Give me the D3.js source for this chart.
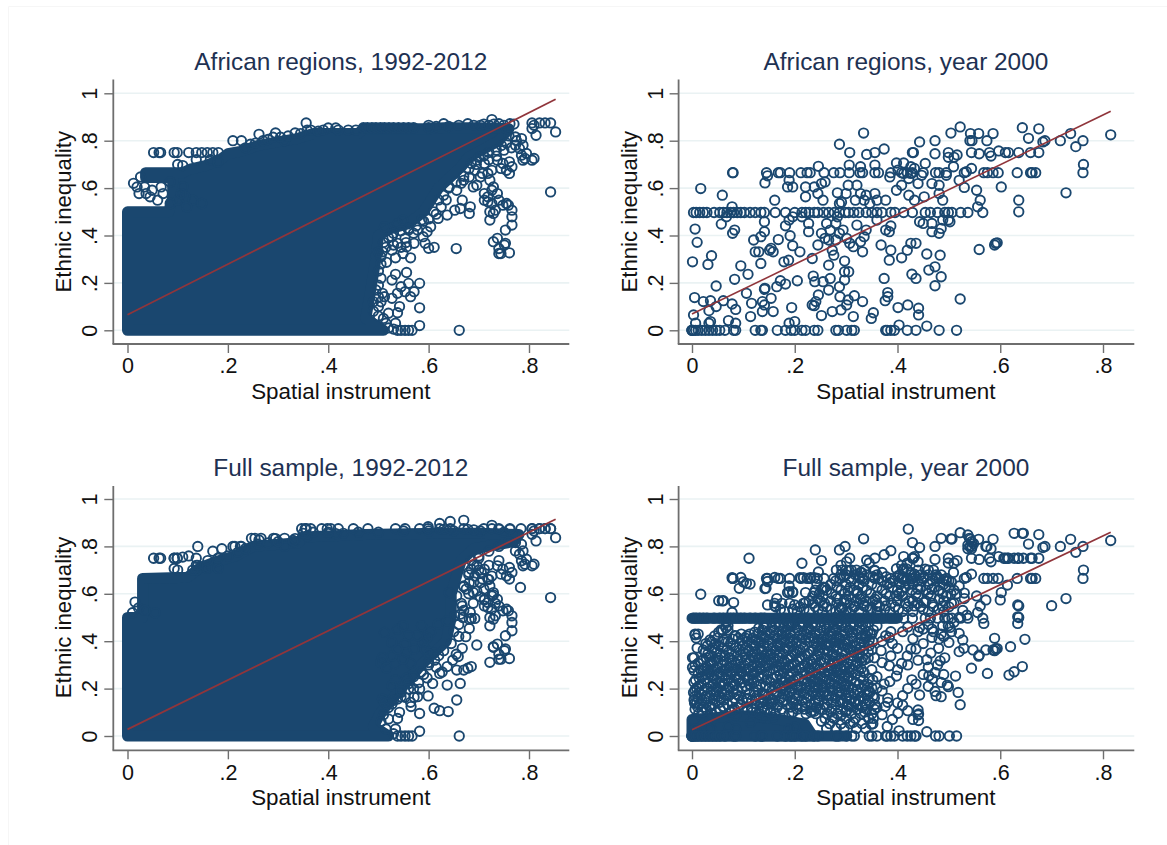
<!DOCTYPE html>
<html><head><meta charset="utf-8">
<script src="https://cdn.jsdelivr.net/npm/d3@7"></script>
<style>html,body{margin:0;padding:0;background:#fff}svg{display:block}text{font-family:"Liberation Sans",Arial,sans-serif}</style>
</head><body><svg id="c" width="1167" height="845"></svg>
<script>
const titles = ["African regions, 1992-2012","African regions, year 2000","Full sample, 1992-2012","Full sample, year 2000"];
const xLabel = "Spatial instrument", yLabel = "Ethnic inequality";
const xTicks = [0,.2,.4,.6,.8], yTicks = [0,.2,.4,.6,.8,1];
const tickText = v => v===0?"0":v===1?"1":String(v).replace("0.",".");

// fitted lines [x,y]
const fitA = [[0,.066],[.853,.975]];
const fitB = [[0,.069],[.815,.924]];
const fitC = [[0,.028],[.853,.915]];
const fitD = [[0,.026],[.5,.535],[.815,.86]];

// outline of the fully overplotted mass in the two 1992-2012 panels
const massA = [[0,0],[0,.5],[.082,.5],[.09,.56],[.09,.645],[.036,.645],[.036,.665],[.11,.665],[.125,.68],[.155,.695],[.185,.72],[.2,.745],[.225,.755],[.26,.78],[.3,.795],[.34,.81],[.37,.83],[.46,.83],[.47,.85],[.6,.85],[.63,.855],[.7,.855],[.76,.85],[.74,.8],[.68,.73],[.665,.69],[.65,.66],[.62,.6],[.59,.5],[.56,.45],[.525,.43],[.5,.4],[.495,.3],[.487,.2],[.475,.05],[.51,0]];
const massC = [[0,0],[0,.5],[.03,.5],[.03,.665],[.12,.67],[.145,.71],[.175,.735],[.215,.76],[.25,.8],[.34,.815],[.35,.84],[.47,.85],[.62,.855],[.7,.855],[.78,.85],[.77,.82],[.69,.79],[.665,.74],[.645,.6],[.645,.5],[.635,.4],[.585,.3],[.545,.2],[.505,.1],[.49,.04],[.52,0]];
// overplotted strips and corner in the full-sample year-2000 panel
const massDLow = [[0,0],[.235,0],[.22,.05],[.17,.07],[.11,.085],[.06,.08],[0,.07]];
const massDRow5 = [[0,.497],[.4,.497]];
const massDRow0 = [[0,0],[.3,0]];

const rowA = [.052,.063,.066,.093,.099,.122,.137,.148,.159,.17,.181];
const topRowA = [.47,.478,.487,.495,.504,.512,.521,.53,.54,.55,.56,.57,.6];
const zeroTail = [.538,.545,.553,.56,.567];
const outA = [[.21,.8],[.227,.8],[.262,.827],[.295,.833],[.313,.8],[.334,.833],[.356,.875],[.358,.844],[.4,.854],[.415,.854],[.63,.872],[.678,.872],[.726,.889],[.703,.865],[.74,.872],[.762,.872],[.806,.875],[.821,.875],[.832,.875],[.843,.875],[.853,.837],[.814,.823],[.806,.851],[.81,.865],[.843,.584],[.655,.345],[.661,0],[.582,.02],[.582,.095],[.582,.198],[.556,.244],[.534,.236],[.527,.212],[.56,.198],[.553,.163],[.538,.156],[.527,.135],[.542,.1],[.538,.074],[.52,.072],[.508,.156],[.512,.142],[.571,.163],[.564,.142],[.545,.184],[.534,.03],[.505,.31],[.516,.287],[.534,.306],[.564,.306],[.549,.324],[.527,.338],[.508,.331],[.556,.352],[.571,.367],[.593,.367],[.611,.35],[.6,.346],[.589,.395],[.604,.437],[.597,.416],[.578,.423],[.56,.423],[.553,.388],[.538,.367],[.527,.395],[.512,.437],[.538,.45],[.549,.465],[.586,.465],[.619,.472],[.637,.486],[.652,.507],[.663,.514],[.681,.493],[.683,.521],[.667,.549],[.656,.591],[.641,.605],[.67,.633],[.689,.605],[.696,.612],[.681,.647],[.722,.465],[.729,.374],[.737,.388],[.74,.324],[.744,.324],[.751,.36],[.753,.367],[.761,.327],[.74,.345],[.753,.423],[.766,.444],[.766,.479],[.766,.507],[.755,.535],[.74,.549],[.726,.535],[.733,.507],[.718,.563],[.726,.591],[.737,.577],[.711,.577],[.729,.605],[.722,.5],[.729,.493],[.748,.528],[.759,.528],[.718,.542],[.711,.549],[.761,.662],[.766,.69],[.755,.675],[.744,.683],[.737,.718],[.718,.662],[.703,.647],[.692,.675],[.685,.704],[.696,.718],[.711,.704],[.726,.675],[.722,.633],[.707,.662],[.748,.704],[.761,.711],[.785,.739],[.792,.725],[.806,.718],[.81,.725],[.788,.718],[.795,.746],[.781,.767],[.785,.809],[.773,.781],[.788,.781],[.773,.816],[.012,.62],[.026,.647],[.023,.577],[.019,.605],[.034,.605],[.045,.563],[.06,.549],[.067,.605],[.085,.626],[.071,.577],[.049,.591],[.037,.577],[.085,.535],[.1,.549],[.111,.605],[.115,.563],[.13,.549],[.148,.535],[.107,.577],[.118,.52],[.137,.72],[.165,.72],[.18,.71],[.1,.7],[.11,.695]];
const edgeA = [[.235,.77],[.245,.785],[.255,.79],[.27,.8],[.28,.805],[.29,.815],[.305,.815],[.32,.82],[.345,.83],[.365,.845],[.38,.84],[.39,.845],[.42,.845],[.44,.845],[.455,.845],[.6,.865],[.615,.86],[.64,.86],[.66,.865],[.69,.865],[.71,.87],[.72,.865],[.73,.87],[.75,.865],[.77,.87],[.755,.85],[.76,.82],[.755,.79],[.745,.78],[.735,.76],[.72,.75],[.71,.735],[.7,.73],[.695,.7],[.72,.72],[.735,.735],[.75,.76],[.765,.77],[.775,.8],[.68,.68],[.67,.65],[.655,.625],[.665,.62],[.64,.6],[.63,.57],[.62,.55],[.635,.55],[.625,.52],[.61,.5],[.6,.47],[.615,.49],[.59,.46],[.575,.44],[.56,.43],[.57,.41],[.545,.42],[.53,.41],[.52,.39],[.51,.37],[.53,.36],[.515,.35],[.545,.35],[.555,.37],[.5,.33],[.505,.28],[.5,.25],[.505,.22],[.5,.19],[.495,.17],[.5,.14],[.49,.12],[.5,.1],[.505,.12],[.49,.08],[.5,.06],[.51,.05],[.515,.03],[.52,.01],[.53,.005]];
const topRowC = [.347,.354,.365,.387,.398,.405,.42,.45,.479,.534,.553,.582,.599,.622,.643,.67,.726,.74,.762,.784,.806,.821,.832,.843];
const outC = [[.67,.91],[.643,.905],[.622,.897],[.599,.883],[.14,.8],[.17,.78],[.188,.79],[.214,.8],[.225,.8],[.247,.834],[.254,.834],[.266,.834],[.291,.834],[.313,.834],[.332,.82],[.093,.75],[.099,.75],[.11,.755],[.122,.76],[.137,.75],[.093,.707],[.1,.7],[.137,.7],[.181,.707],[.159,.707],[.783,.627],[.696,.384],[.722,.311],[.729,.377],[.685,.293],[.678,.286],[.67,.278],[.659,.335],[.656,.278],[.663,.222],[.637,.215],[.656,.152],[.611,.117],[.622,.107],[.639,.103],[.599,.169],[.565,.124],[.545,.166],[.578,.166],[.608,.222],[.622,.264],[.637,.293],[.648,.32],[.667,.37],[.674,.419],[.681,.454],[.685,.496],[.692,.496],[.703,.588],[.689,.56],[.711,.574],[.729,.595],[.733,.56],[.627,.27],[.59,.26],[.612,.32],[.597,.245],[.57,.2],[.66,.42],[.668,.5],[.675,.62],[.69,.65],[.7,.7],[.72,.72],[.74,.74],[.7,.76],[.68,.68],[.71,.62],[.72,.66],[.685,.74],[.015,.565],[.022,.54],[.01,.52],[.055,.52],[.035,.53]];
const edgeC = [[.13,.7],[.14,.72],[.16,.74],[.18,.75],[.2,.76],[.22,.775],[.235,.79],[.26,.81],[.28,.815],[.3,.82],[.33,.825],[.35,.855],[.37,.86],[.4,.86],[.43,.855],[.46,.86],[.5,.86],[.55,.865],[.6,.865],[.65,.865],[.69,.87],[.71,.875],[.75,.86],[.77,.85],[.76,.82],[.74,.8],[.72,.78],[.7,.75],[.69,.72],[.705,.69],[.68,.69],[.67,.63],[.68,.6],[.665,.56],[.67,.53],[.66,.47],[.65,.44],[.645,.39],[.63,.36],[.62,.34],[.6,.31],[.585,.27],[.57,.25],[.56,.22],[.545,.19],[.53,.15],[.52,.12],[.51,.09],[.505,.06],[.515,.03],[.53,.01],[.6,.3],[.615,.29],[.58,.225]];

// year 2000 African regions
const row0B = [0,0,0,.003,.007,.012,.019,.026,.033,.04,.047,.054,.064,.081,.085,.123,.134,.137,.166,.182,.193,.2,.214,.221,.238,.245,.28,.285,.301,.311,.316,.377,.38,.387,.394,.419,.436,.481,.515];
const row5B = [.003,.008,.015,.022,.029,.043,.054,.061,.068,.075,.081,.088,.095,.102,.113,.123,.134,.141,.162,.182,.2,.214,.221,.228,.238,.245,.256,.266,.277,.287,.298,.305,.315,.325,.339,.35,.36,.37,.387,.395,.412,.429,.454,.464,.478,.492,.499,.506,.523,.537,.566];
const row665B = [.079,.08,.145,.168,.172,.19,.212,.224,.23,.257,.276,.288,.306,.327,.332,.356,.363,.387,.408,.419,.429,.45,.474,.481,.495,.53,.568,.575,.586,.596,.633,.659,.662,.669];
const row75B = [.307,.356,.429,.431,.499,.544,.579,.61,.616,.636,.659,.675];
const ptsB = [[.522,.858],[.504,.832],[.542,.83],[.558,.83],[.586,.83],[.541,.8],[.545,.8],[.574,.8],[.643,.855],[.675,.85],[.655,.81],[.683,.795],[.687,.8],[.717,.8],[.737,.83],[.747,.775],[.761,.8],[.815,.825],[.762,.7],[.761,.665],[.728,.58],[.334,.832],[.287,.785],[.34,.742],[.374,.765],[.443,.795],[.473,.8],[.473,.745],[.499,.73],[.516,.74],[.51,.73],[.559,.745],[.582,.735],[.597,.757],[.017,.598],[.059,.57],[.057,.448],[.067,.479],[.078,.521],[.079,.409],[.083,.423],[.006,.427],[.01,.371],[.038,.315],[.031,.278],[.001,.289],[.095,.272],[.109,.236],[.083,.215],[.047,.187],[.005,.138],[.022,.121],[.036,.125],[.061,.125],[.078,.111],[.085,.088],[.033,.083],[.003,.065],[.071,.041],[.085,.03],[.036,.037],[.033,.03],[.007,.03],[.047,.1],[.106,.156],[.116,.114],[.114,.058],[.137,.121],[.141,.107],[.137,.079],[.141,.173],[.142,.177],[.154,.135],[.158,.079],[.165,.184],[.172,.209],[.182,.195],[.205,.209],[.194,.096],[.189,.03],[.2,.037],[.134,.282],[.123,.331],[.13,.331],[.12,.381],[.134,.395],[.141,.416],[.141,.458],[.161,.549],[.147,.652],[.142,.622],[.151,.338],[.158,.331],[.154,.346],[.168,.383],[.182,.441],[.191,.399],[.196,.357],[.21,.331],[.179,.289],[.188,.296],[.196,.479],[.189,.465],[.186,.605],[.189,.633],[.196,.605],[.221,.563],[.214,.479],[.227,.451],[.227,.416],[.245,.36],[.234,.303],[.236,.229],[.239,.205],[.255,.205],[.269,.219],[.266,.275],[.266,.17],[.246,.149],[.241,.121],[.234,.107],[.238,.104],[.252,.062],[.273,.079],[.287,.184],[.288,.142],[.29,.086],[.301,.107],[.304,.128],[.316,.146],[.332,.121],[.314,.058],[.297,.212],[.297,.247],[.305,.247],[.297,.292],[.332,.331],[.314,.353],[.307,.367],[.301,.388],[.294,.423],[.287,.409],[.28,.381],[.273,.338],[.276,.317],[.266,.381],[.259,.388],[.252,.409],[.269,.423],[.262,.451],[.28,.451],[.283,.479],[.321,.444],[.339,.423],[.335,.395],[.328,.374],[.368,.36],[.387,.338],[.384,.296],[.408,.306],[.419,.338],[.426,.367],[.436,.367],[.377,.423],[.384,.416],[.387,.44],[.36,.465],[.401,.096],[.42,.107],[.441,.093],[.441,.065],[.457,.018],[.403,.022],[.353,.074],[.349,.05],[.428,.237],[.436,.219],[.461,.254],[.473,.268],[.485,.226],[.473,.188],[.483,.317],[.457,.322],[.522,.132],[.559,.341],[.591,.367],[.594,.369],[.589,.36],[.374,.219],[.381,.159],[.381,.142],[.376,.125],[.602,.605],[.636,.549],[.636,.5],[.554,.591],[.561,.549],[.556,.521],[.53,.603],[.52,.633],[.509,.69],[.544,.683],[.534,.669],[.45,.451],[.443,.458],[.467,.451],[.467,.416],[.481,.409],[.485,.43],[.488,.465],[.499,.465],[.502,.458],[.488,.549],[.481,.577],[.452,.563],[.433,.549],[.422,.57],[.398,.591],[.408,.612],[.377,.549],[.36,.549],[.356,.577],[.335,.549],[.346,.535],[.339,.57],[.328,.577],[.318,.549],[.3,.577],[.304,.612],[.321,.612],[.283,.58],[.287,.535],[.291,.54],[.255,.549],[.245,.577],[.238,.605],[.252,.619],[.259,.626],[.221,.605],[.246,.692],[.356,.697],[.306,.697],[.328,.69],[.398,.706],[.412,.706],[.401,.676],[.412,.662],[.426,.662],[.422,.64],[.44,.619],[.454,.704],[.433,.683],[.426,.69],[.447,.654],[.467,.619],[.481,.612],[.495,.654],[.385,.647]];

// extra cells of the full sample, year 2000
const ptsDx = [[.421,.873],[.429,.816],[.485,.834],[.506,.831],[.537,.848],[.54,.834],[.544,.82],[.537,.805],[.544,.79],[.537,.79],[.548,.812],[.627,.855],[.645,.855],[.572,.8],[.582,.79],[.298,.8],[.24,.785],[.252,.74],[.214,.729],[.111,.75],[.387,.782],[.412,.757],[.419,.729],[.433,.757],[.607,.75],[.614,.75],[.627,.75],[.634,.75],[.645,.75],[.662,.75],[.7,.55],[.648,.408],[.62,.377],[.589,.412],[.643,.293],[.627,.271],[.617,.257],[.575,.264],[.544,.286],[.558,.337],[.547,.363],[.572,.363],[.586,.363],[.568,.475],[.634,.475],[.634,.503],[.634,.553],[.614,.637],[.6,.574],[.572,.574],[.527,.405],[.52,.433],[.529,.37],[.52,.356],[.513,.253],[.518,.184],[.499,.208],[.485,.166],[.443,.173],[.44,.089],[.398,.253],[.474,0],[.501,0],[.433,0],[.426,0],[.41,0],[.35,0],[.345,0],[.36,0],[.078,.668],[.095,.669],[.113,.641],[.106,.644],[.092,.623],[.1,.65],[.052,.571],[.061,.571],[.081,.563],[.147,.665],[.161,.669],[.144,.623],[.147,.553],[.161,.56],[.165,.58],[.175,.56],[.189,.609],[.196,.609],[.2,.553],[.217,.56],[.21,.668],[.217,.668],[.231,.668],[.238,.668],[.244,.665],[.29,.72],[.281,.7],[.301,.735],[.31,.7],[.33,.69],[.345,.73],[.37,.69],[.408,.72],[.418,.705],[.44,.735],[.46,.7],[.475,.68],[.49,.66],[.505,.65],[.515,.6],[.53,.58],[.51,.56],[.527,.53],[.535,.51],[.52,.5],[.51,.48],[.505,.44],[.49,.42],[.5,.395],[.48,.37],[.465,.35],[.492,.33],[.478,.3],[.46,.29],[.45,.26],[.468,.24],[.49,.26],[.497,.215],[.475,.17],[.46,.21],[.42,.2],[.41,.17],[.4,.14],[.41,.13],[.44,.11],[.43,.07],[.39,.07],[.38,.04],[.37,.09],[.36,.12],[.355,.16],[.345,.19],[.37,.19],[.385,.23],[.36,.25],[.35,.28],[.37,.31],[.355,.33],[.4,.28],[.42,.3],[.44,.32],[.45,.39],[.43,.41],[.41,.44],[.39,.39],[.4,.37],[.37,.4],[.35,.43],[.42,.46],[.44,.44],[.46,.47],[.47,.44]];
const bandsD = [
[.032,[.262,.281,.296,.32,.338]],
[.052,[.268,.29,.308,.331,.352]],
[.074,[.259,.277,.3,.318,.344]],
[.094,[.013,.037,.131,.162,.189,.222,.241,.263,.283,.31,.329,.35]],
[.113,[.006,.028,.055,.083,.108,.147,.175,.205,.22,.25,.272,.29,.322,.34,.355]],
[.133,[.015,.04,.069,.095,.126,.147,.168,.184,.205,.232,.258,.28,.302,.322,.337,.356]],
[.152,[.004,.019,.041,.062,.098,.117,.139,.158,.179,.195,.214,.24,.265,.29,.31,.324,.343]],
[.168,[.006,.027,.052,.071,.092,.126,.148,.187,.208,.228,.25,.272,.3,.33,.352]],
[.184,[.003,.014,.036,.058,.08,.121,.166,.19,.216,.235,.258,.283,.305,.327,.346]],
[.203,[.009,.029,.049,.072,.097,.15,.175,.194,.222,.245,.268,.29,.312,.33,.35,.36]],
[.218,[.018,.041,.063,.084,.112,.134,.168,.186,.201,.23,.252,.276,.3,.325,.342]],
[.236,[.007,.026,.048,.07,.09,.118,.145,.173,.197,.218,.24,.262,.286,.31,.333,.352]],
[.251,[.02,.038,.059,.083,.104,.13,.165,.189,.204,.228,.25,.274,.296,.328]],
[.268,[.012,.033,.053,.075,.097,.121,.146,.178,.196,.215,.236,.258,.282,.305,.335]],
[.284,[.024,.045,.066,.088,.11,.131,.158,.183,.209,.227,.248,.27,.29,.312,.329]],
[.298,[.006,.036,.058,.079,.102,.127,.149,.172,.194,.219,.244,.27,.296,.318]],
[.315,[.017,.042,.062,.09,.113,.138,.16,.18,.205,.231,.25,.283,.31,.33]],
[.33,[.001,.004,.028,.05,.073,.098,.119,.143,.171,.192,.214,.24,.262,.29,.322,.343]],
[.347,[.031,.055,.077,.104,.127,.153,.177,.2,.225,.249,.273,.3,.326]],
[.363,[.022,.044,.068,.092,.111,.136,.163,.187,.21,.236,.258,.282,.31,.334,.35]],
[.381,[.03,.052,.08,.099,.124,.148,.172,.195,.22,.244,.27,.295,.318,.345]],
[.398,[.038,.059,.07,.108,.13,.156,.18,.204,.229,.253,.278,.304,.33,.352]],
[.413,[.008,.05,.09,.104,.118,.141,.166,.19,.214,.238,.263,.288,.312,.338]],
[.43,[.006,.012,.096,.112,.128,.152,.175,.2,.223,.248,.273,.298,.32,.347]],
[.447,[.06,.07,.137,.16,.184,.207,.231,.256,.28,.306,.33,.353]],
[.465,[.07,.145,.17,.193,.216,.24,.266,.292,.315,.338]],
[.48,[.155,.178,.2,.226,.25,.274,.3,.326,.345]],
[.525,[.18,.205,.228,.254,.28,.3,.325,.36,.385,.41,.43,.46,.49]],
[.545,[.163,.21,.24,.262,.29,.315,.34,.365,.395,.42,.445,.47,.5]],
[.57,[.228,.25,.27,.296,.32,.352,.375,.4,.43,.455,.49]],
[.59,[.235,.255,.28,.305,.33,.36,.385,.41,.44,.465,.495]],
[.615,[.24,.262,.29,.315,.34,.37,.4,.428,.455,.48,.51]],
[.64,[.243,.27,.3,.325,.35,.38,.405,.43,.46,.49]],
[.655,[.28,.31,.335,.37,.392,.415,.44,.468,.5]],
[.68,[.29,.3,.318,.34,.36,.405,.425,.445,.46,.485]],
[.7,[.292,.3,.32,.335,.355,.41,.44,.47]]
];
const bandsD2 = [
[.101,[.02,.047,.076,.118,.153,.197,.231,.27,.299,.336]],
[.122,[.011,.034,.061,.089,.116,.139,.166,.193,.214,.243,.263,.311,.331]],
[.141,[.009,.028,.053,.079,.107,.135,.157,.176,.196,.221,.247,.271,.293,.317,.346]],
[.159,[.012,.033,.057,.083,.108,.131,.152,.173,.201,.224,.244,.279,.301,.336]],
[.176,[.018,.043,.064,.087,.112,.137,.159,.178,.199,.219,.241,.263,.292,.316,.341]],
[.194,[.006,.024,.047,.068,.089,.107,.129,.156,.183,.207,.229,.252,.274,.298,.321,.339]],
[.21,[.013,.036,.056,.078,.104,.126,.143,.161,.18,.213,.238,.26,.283,.306,.336]],
[.227,[.004,.031,.054,.076,.098,.121,.153,.178,.193,.224,.246,.269,.293,.318]],
[.244,[.014,.042,.065,.087,.111,.137,.158,.181,.209,.233,.256,.28,.303,.345]],
[.26,[.026,.049,.069,.092,.117,.14,.171,.192,.222,.243,.267,.289,.318]],
[.276,[.004,.018,.039,.061,.082,.105,.126,.152,.169,.203,.231,.252,.276,.298,.324]],
[.291,[.029,.05,.072,.094,.118,.143,.165,.188,.213,.239,.262,.283,.306]],
[.307,[.012,.037,.068,.085,.108,.133,.155,.176,.199,.225,.257,.277,.303,.322]],
[.322,[.022,.047,.078,.105,.128,.15,.186,.209,.236,.268,.296,.336]],
[.339,[.037,.064,.088,.117,.141,.166,.194,.22,.244,.28,.311]],
[.355,[.026,.049,.072,.099,.122,.147,.171,.204,.23,.265,.292,.343]],
[.372,[.04,.06,.086,.106,.132,.157,.181,.216,.25,.276,.303,.329]],
[.39,[.027,.046,.075,.116,.14,.166,.19,.213,.241,.263,.288,.326]],
[.405,[.035,.063,.098,.124,.149,.174,.198,.221,.247,.273,.298,.345]],
[.422,[.044,.085,.107,.136,.16,.183,.209,.233,.257,.282,.31,.331]],
[.438,[.052,.122,.146,.169,.191,.218,.24,.268,.291,.312,.342]],
[.456,[.066,.13,.155,.178,.202,.225,.25,.276,.3,.326]],
[.472,[.14,.163,.186,.209,.234,.258,.282,.308,.332]],
[.535,[.172,.196,.218,.246,.27,.292,.312,.35,.375,.402,.45,.48]],
[.56,[.19,.236,.258,.282,.308,.333,.36,.388,.415,.44,.468,.505]],
[.6,[.248,.272,.297,.322,.348,.378,.403,.436,.46,.488,.504]],
[.628,[.256,.282,.308,.332,.36,.39,.415,.445,.472,.5]],
[.672,[.296,.326,.352,.378,.41,.435,.452,.476]]
];

const expand = rows => rows.flatMap(([y,xs])=>xs.map(x=>[x,y]));
const onRow = (xs,y)=>xs.map(x=>[x,y]);

const ptsA = [...outA,...edgeA,...onRow(rowA,.75),...onRow(topRowA,.855),...onRow(zeroTail,0)];
const ptsC = [...outA.filter(p=>p[0]>.5||p[1]>.7),...outC,...edgeC,...onRow(rowA.slice(0,5),.75),...onRow(topRowC,.875),...onRow(zeroTail,0)];
const ptsBAll = [...ptsB,...onRow(row0B,0),...onRow(row5B,.497),...onRow(row665B,.665),...onRow(row75B,.75)];
const ptsD = [...ptsBAll,...ptsDx,...expand(bandsD),...expand(bandsD2)];

const panels = [
 {title:titles[0],x0:127.5,x8:529,left:113.3,right:569.3,y0:330.3,y1:93.3,top:79.5,base:344,pts:ptsA,fit:fitA,mass:[massA]},
 {title:titles[1],x0:692,x8:1103,left:678.6,right:1134.3,y0:330.3,y1:93.3,top:79.5,base:344,pts:ptsBAll,fit:fitB,mass:[]},
 {title:titles[2],x0:127.5,x8:529,left:113.3,right:569.3,y0:736,y1:499,top:486,base:750.3,pts:ptsC,fit:fitC,mass:[massC]},
 {title:titles[3],x0:692,x8:1103,left:678.6,right:1134.3,y0:736,y1:499,top:486,base:750.3,pts:ptsD,fit:fitD,mass:[massDLow,massDRow5,massDRow0]}
];

const NAVY="#1a476f", MAROON="#90353b", GRID="#eaf2f3", AXIS="#6e6e6e";
const svg=d3.select("#c");
svg.append("path").attr("d","M8.5,845V6.5H1167").attr("fill","none").attr("stroke","#f6f6f6");

panels.forEach(p=>{
  const x=d3.scaleLinear().domain([0,.8]).range([p.x0,p.x8]);
  const y=d3.scaleLinear().domain([0,1]).range([p.y0,p.y1]);
  const g=svg.append("g");
  g.append("g").selectAll("line").data(yTicks).join("line")
    .attr("x1",p.left).attr("x2",p.right).attr("y1",d=>y(d)).attr("y2",d=>y(d))
    .attr("stroke",GRID).attr("stroke-width",1.6);
  const line=d3.line().x(d=>x(d[0])).y(d=>y(d[1]));
  g.append("g").selectAll("path").data(p.mass).join("path")
    .attr("d",d=>line(d)+"Z").attr("fill",NAVY).attr("stroke",NAVY)
    .attr("stroke-width",11).attr("stroke-linejoin","round").attr("stroke-linecap","round");
  g.append("g").selectAll("circle").data(p.pts).join("circle")
    .attr("cx",d=>x(d[0])).attr("cy",d=>y(d[1])).attr("r",4.7)
    .attr("fill","none").attr("stroke",NAVY).attr("stroke-width",1.9);
  g.append("path").attr("d",line(p.fit)).attr("fill","none").attr("stroke",MAROON).attr("stroke-width",1.7);

  const ax=g.append("g").attr("transform",`translate(0,${p.base})`)
    .call(d3.axisBottom(x).tickValues(xTicks).tickFormat(tickText).tickSize(9).tickPadding(5));
  ax.select(".domain").remove();
  ax.selectAll("line").attr("stroke",AXIS).attr("stroke-width",1.4);
  ax.selectAll("text").attr("font-size",21.5).attr("fill","#111");
  ax.append("line").attr("x1",p.left-.8).attr("x2",p.right).attr("stroke",AXIS).attr("stroke-width",1.8);
  const ay=g.append("g").attr("transform",`translate(${p.left},0)`)
    .call(d3.axisLeft(y).tickValues(yTicks).tickFormat(tickText).tickSize(9).tickPadding(0));
  ay.select(".domain").remove();
  ay.selectAll("line").attr("stroke",AXIS).attr("stroke-width",1.4);
  ay.selectAll("text").attr("font-size",21.5).attr("fill","#111").attr("text-anchor","middle").attr("dy",0)
    .attr("x",null).attr("y",0).attr("transform","translate(-16,0) rotate(-90)");
  ay.append("line").attr("y1",p.top).attr("y2",p.base).attr("stroke",AXIS).attr("stroke-width",1.8);

  const cx=(p.left+p.right)/2-.5;
  g.append("text").text(p.title).attr("x",cx).attr("y",p.top-10).attr("text-anchor","middle")
    .attr("font-size",24.4).attr("fill","#1e3152");
  g.append("text").text(xLabel).attr("x",cx).attr("y",p.base+55).attr("text-anchor","middle")
    .attr("font-size",22.4).attr("fill","#111");
  g.append("text").text(yLabel).attr("text-anchor","middle").attr("font-size",22.2).attr("fill","#111")
    .attr("transform",`translate(${p.left-42},${(p.y0+p.y1)/2}) rotate(-90)`);
});
</script></body></html>
